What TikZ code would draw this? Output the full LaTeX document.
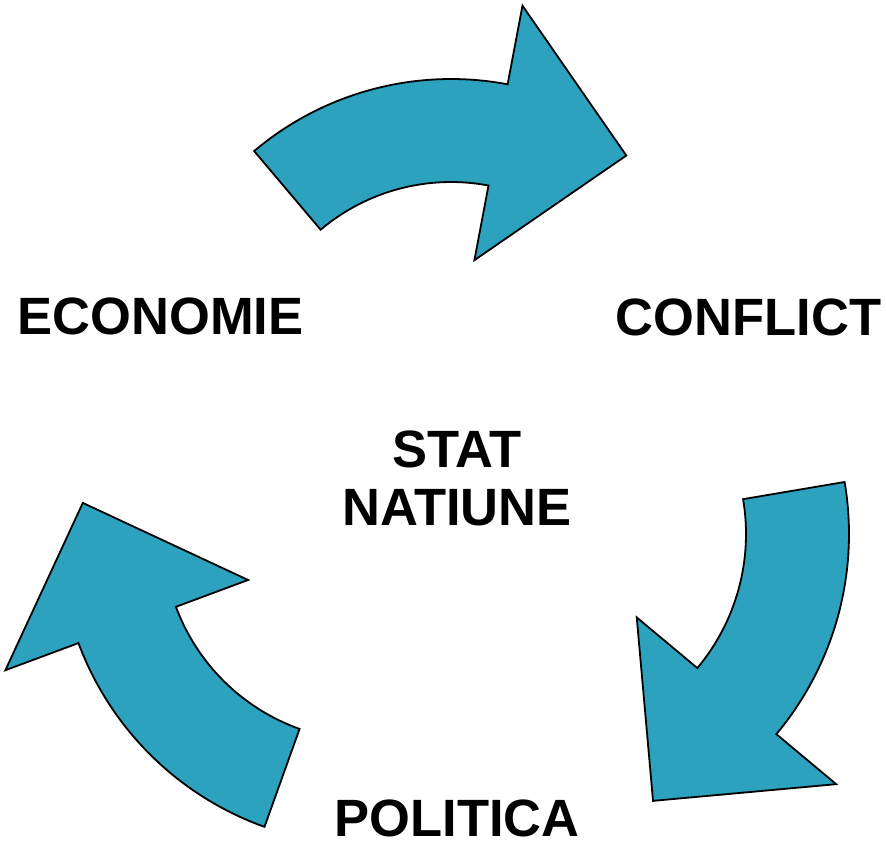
\documentclass[tikz,border=0pt]{standalone}
\usepackage{fontspec}
\setmainfont{Liberation Sans}
\usepackage{tikz}
\usetikzlibrary{positioning}

\definecolor{arrowblue}{RGB}{44,162,190}

\begin{document}
\begin{tikzpicture}[x=1pt, y=-1pt,
    arr/.style={draw=black, line width=1.8pt, fill=arrowblue, line join=miter},
    lbl/.style={font=\fontsize{52.5}{57.5}\selectfont\bfseries, inner sep=0pt}]
  \useasboundingbox (0,0) rectangle (886,847);

  %% centres of the three curved arrows
  \coordinate (ct) at (451,384);
  \coordinate (cr) at (537,534);
  \coordinate (cl) at (369,535);

  %% economie -> conflict
  \draw[arr] ([shift={(-130.2:305)}]ct) arc[start angle=-130.2, end angle=-79.3, radius=305]
    -- ([shift={(-79.3:385)}]ct) -- ([shift={(-52.5:288)}]ct) -- ([shift={(-79.3:126)}]ct)
    -- ([shift={(-79.3:202)}]ct) arc[start angle=-79.3, end angle=-130.2, radius=202] -- cycle;

  %% conflict -> politica
  \draw[arr] ([shift={(-9.6:312)}]cr) arc[start angle=-9.6, end angle=39.9, radius=312]
    -- ([shift={(39.9:390)}]cr) -- ([shift={(66.5:291)}]cr) -- ([shift={(39.9:130)}]cr)
    -- ([shift={(39.9:209)}]cr) arc[start angle=39.9, end angle=-9.6, radius=209] -- cycle;

  %% politica -> economie
  \draw[arr] ([shift={(109.7:310)}]cl) arc[start angle=109.7, end angle=159.6, radius=310]
    -- ([shift={(159.6:388)}]cl) -- ([shift={(186.4:288)}]cl) -- ([shift={(159.6:129)}]cl)
    -- ([shift={(159.6:206)}]cl) arc[start angle=159.6, end angle=109.7, radius=206] -- cycle;

  \node[lbl, anchor=base] (econ) at (160.5,334) {ECONOMIE};
  \node[lbl, anchor=base] (confl) at (748.5,335) {CONFLICT};
  \node[lbl, anchor=base] (polit) at (457,836) {POLITICA};
  \node[lbl, align=center] (stat) at (457,478.5) {STAT\\NATIUNE};
\end{tikzpicture}
\end{document}
